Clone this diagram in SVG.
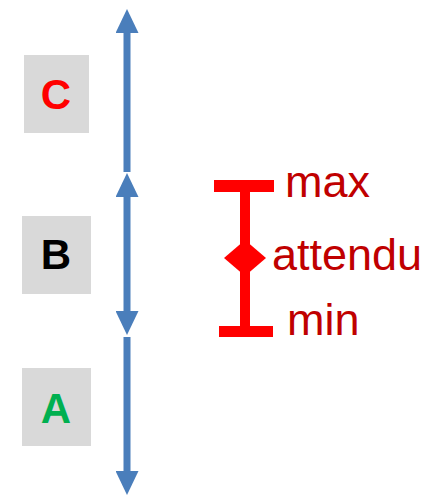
<svg xmlns="http://www.w3.org/2000/svg" width="426" height="496" viewBox="0 0 426 496">
<style>
.box{fill:#D9D9D9}
.lbl{font-family:"Liberation Sans",Arial,sans-serif;font-weight:bold;font-size:42px;text-anchor:middle}
.conn{stroke:#4A7EBB;stroke-width:7;fill:none}
.eb{fill:#FF0000}
.legend{font-family:"Liberation Sans",Arial,sans-serif;font-size:45px;fill:#C00000}
</style>
<defs>
<marker id="ah" markerUnits="userSpaceOnUse" markerWidth="24" markerHeight="23" refX="0" refY="11.5" orient="auto-start-reverse" viewBox="0 0 24 23">
<path d="M0,0 L24,11.5 L0,23 Z" fill="#4A7EBB"/>
</marker>
</defs>
<g id="nodeC"><rect class="box" x="24" y="55" width="65" height="78"/><text class="lbl" x="56" y="109" fill="#FF0000">C</text></g>
<g id="nodeB"><rect class="box" x="22" y="216" width="69" height="78"/><text class="lbl" x="56" y="269" fill="#000000">B</text></g>
<g id="nodeA"><rect class="box" x="22" y="368" width="69" height="78"/><text class="lbl" x="56" y="423" fill="#00B050">A</text></g>
<g id="connectors">
<line class="conn" x1="127" y1="172" x2="127" y2="33" marker-end="url(#ah)"/>
<line class="conn" x1="127" y1="197" x2="127" y2="311" marker-start="url(#ah)" marker-end="url(#ah)"/>
<line class="conn" x1="127" y1="337" x2="127" y2="471" marker-end="url(#ah)"/>
</g>
<g id="legend">
<rect class="eb" x="240" y="186" width="10" height="145"/>
<rect class="eb" x="214" y="180" width="60" height="12"/>
<rect class="eb" x="219" y="326" width="54" height="11"/>
<polygon class="eb" points="245,240 266,258 245,276 224,258"/>
<text class="legend" x="285" y="197">max</text>
<text class="legend" x="272" y="270">attendu</text>
<text class="legend" x="287" y="335">min</text>
</g>
</svg>
